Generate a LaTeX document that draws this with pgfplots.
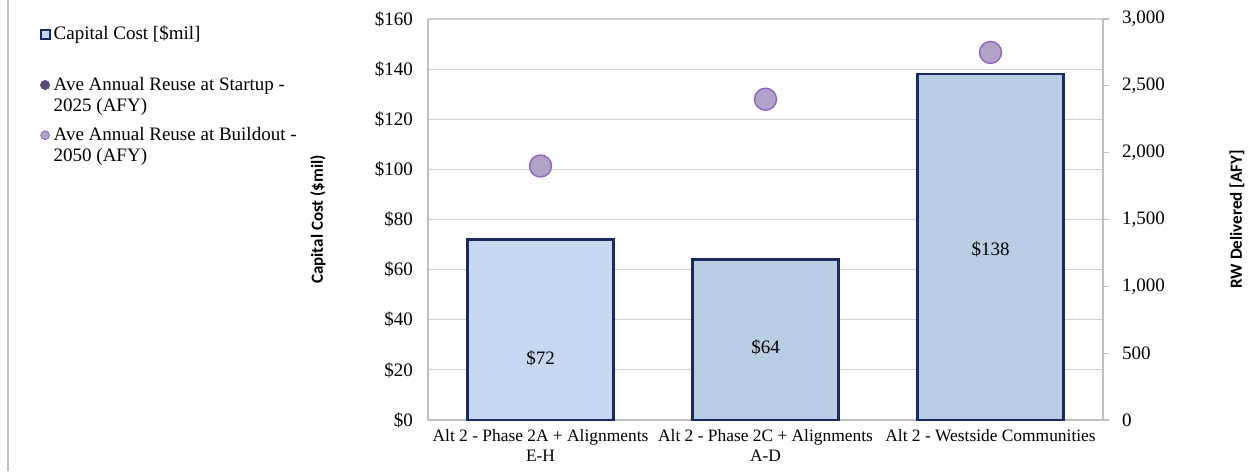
\documentclass[border=0pt]{standalone}
\usepackage{pgfplots}
\pgfplotsset{compat=1.18}
\usepackage{fontspec}
\setmainfont{Liberation Serif}
\newfontfamily\labfont{Carlito}
\definecolor{barA}{HTML}{C6D9F1}
\definecolor{barB}{HTML}{B9CDE5}
\definecolor{navy}{HTML}{1A2A5E}
\definecolor{gridc}{HTML}{D0D0D0}
\definecolor{axc}{HTML}{BFBFBF}
\definecolor{buildfill}{HTML}{B3A2C7}
\definecolor{buildedge}{HTML}{8E63C4}
\definecolor{startfill}{HTML}{604A7B}
\newcommand{\tf}{\fontsize{8.7}{10.2}\selectfont}
\newcommand{\tfb}{\fontsize{9.5}{10.5}\selectfont}
\newcommand{\topline}[1]{\raisebox{0pt}[\height][0pt]{\parbox[t]{150pt}{\raggedright #1}}}
\begin{document}
\begin{tikzpicture}[x=1pt,y=1pt]
\path[use as bounding box] (0,0) rectangle (628,235.5);
\draw[axc, line width=0.7pt] (4,0) -- (4,235.5);
\begin{axis}[
  at={(214pt,25.5pt)}, anchor=south west, scale only axis,
  width=337.5pt, height=200.5pt,
  xmin=-0.5, xmax=2.5, ymin=0, ymax=160,
  ytick={0,20,...,160},
  /pgf/number format/assume math mode=true,
  yticklabel={\tfb\$\pgfmathprintnumber{\tick}},
  ymajorgrids, grid style={gridc, line width=0.6pt},
  axis line style={axc, line width=0.6pt},
  axis y line*=left, axis x line*=bottom,
  major tick length=0pt,
  xtick={0,1,2},
  xticklabels={Alt 2 - Phase 2A + Alignments\\E-H, Alt 2 - Phase 2C + Alignments\\A-D, Alt 2 - Westside Communities},
  xticklabel style={align=center, font=\tf, yshift=-1pt},
  yticklabel style={xshift=-4pt},
  ylabel={\labfont\bfseries Capital Cost (\$mil)},
  ylabel style={at={([xshift=-55pt]axis description cs:0,0.5)}, anchor=center, font=\fontsize{8.5}{10}\selectfont},
  clip=false,
]
\addplot[ybar, bar width=73pt, bar shift=0pt, fill=barA, draw=navy, line width=1.2pt] coordinates {(0,72)};
\addplot[ybar, bar width=73pt, bar shift=0pt, fill=barB, draw=navy, line width=1.2pt] coordinates {(1,64) (2,138)};
\node[font=\tfb] at (axis cs:0,24.7) {\$72};
\node[font=\tfb] at (axis cs:1,29.1) {\$64};
\node[font=\tfb] at (axis cs:2,68.2) {\$138};
\end{axis}
\begin{axis}[
  at={(214pt,25.5pt)}, anchor=south west, scale only axis,
  width=337.5pt, height=200.5pt,
  xmin=-0.5, xmax=2.5, ymin=0, ymax=3000,
  ytick={0,500,...,3000},
  /pgf/number format/assume math mode=true,
  /pgf/number format/1000 sep={,},
  yticklabel style={font=\tfb, xshift=3pt},
  axis x line=none, axis y line*=right,
  axis line style={axc, line width=0.6pt},
  tick style={axc, line width=0.6pt},
  major tick length=3pt, tick align=outside,
  ylabel={\labfont\bfseries RW Delivered [AFY]},
  ylabel style={at={([xshift=67pt]axis description cs:1,0.5)}, anchor=center, font=\fontsize{8.5}{10}\selectfont},
  legend style={at={(-0.585,1.003)}, anchor=north west, draw=none, fill=none, font=\tfb, row sep=13pt,
    nodes={inner xsep=1.5pt}},
  legend cell align=left,
  clip=false,
]
\addlegendimage{legend image code/.code={\draw[fill=barA, draw=navy, line width=1pt] (1pt,-2.3pt) rectangle (5.6pt,2.3pt);}}
\addlegendentry{\rule[-5.5pt]{0pt}{0pt}Capital Cost [\$mil]}
\addlegendimage{legend image code/.code={\fill[startfill] (3.3pt,0pt) circle (2.3pt);}}
\addlegendentry{\topline{Ave Annual Reuse at Startup -\\2025 (AFY)}}
\addplot[only marks, mark=*, mark size=5.5pt, mark options={fill=buildfill, draw=buildedge, line width=0.7pt},
  legend image code/.code={\draw[fill=buildfill, draw=buildedge, line width=0.4pt] (3.3pt,0pt) circle (2.2pt);}] coordinates {(0,1900) (1,2400) (2,2750)};
\addlegendentry{\topline{Ave Annual Reuse at Buildout -\\2050 (AFY)}}
\end{axis}
\end{tikzpicture}
\end{document}
